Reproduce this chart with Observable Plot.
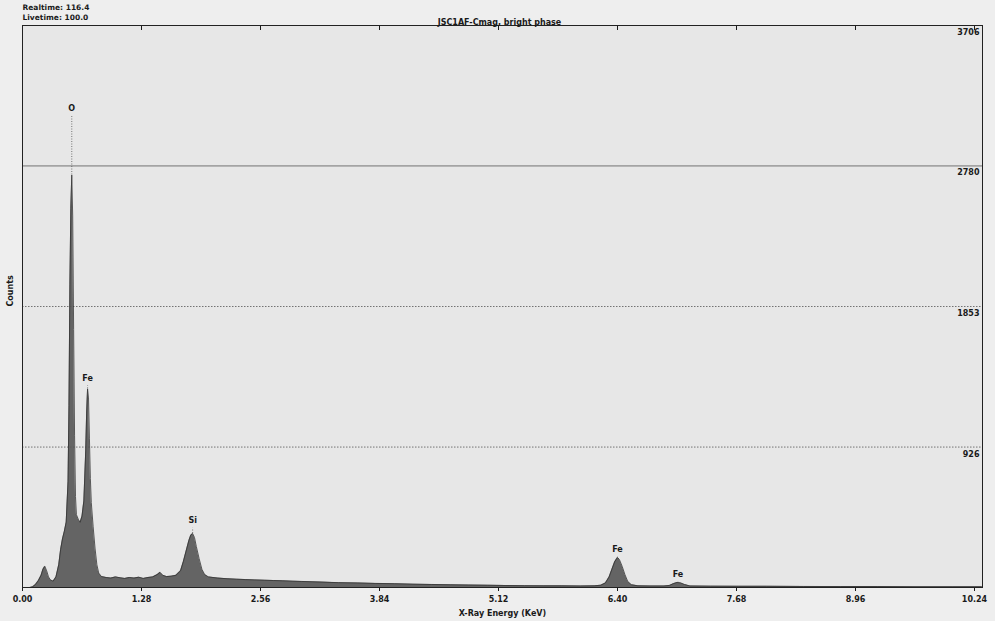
<!DOCTYPE html>
<html>
<head>
<meta charset="utf-8">
<script src="https://cdn.jsdelivr.net/npm/d3@7"></script>
<script src="https://cdn.jsdelivr.net/npm/@observablehq/plot@0.6"></script>
<style>
  html, body { margin: 0; padding: 0; background: #eeeeee; }
  #chart svg { display: block; }
</style>
</head>
<body>
<div id="chart"></div>
<script>
// ---- Data ----
const energy = [
  0.00, 0.08, 0.11, 0.14, 0.17, 0.20, 0.22, 0.24, 0.26, 0.28, 0.30, 0.33, 0.36, 0.39, 0.41, 0.43, 0.45, 0.47,
  0.49, 0.50, 0.51, 0.52, 0.53, 0.54, 0.55, 0.56, 0.57, 0.58, 0.60, 0.62, 0.64, 0.66, 0.68, 0.69, 0.70, 0.71,
  0.72, 0.73, 0.74, 0.76, 0.78, 0.80, 0.82, 0.85, 0.90, 0.95, 1.00, 1.05, 1.10, 1.15, 1.20, 1.25, 1.30, 1.35,
  1.40, 1.45, 1.48, 1.51, 1.55, 1.60, 1.65, 1.70, 1.73, 1.76, 1.79, 1.81, 1.83, 1.85, 1.87, 1.90, 1.93, 1.96,
  2.00, 2.10, 2.20, 2.30, 2.40, 2.50, 2.60, 2.70, 2.80, 2.90, 3.00, 3.20, 3.40, 3.60, 3.80, 4.00, 4.20, 4.40,
  4.60, 4.80, 5.00, 5.20, 5.40, 5.60, 5.80, 6.00, 6.15, 6.22, 6.27, 6.31, 6.34, 6.37, 6.40, 6.42, 6.45, 6.48,
  6.51, 6.55, 6.62, 6.75, 6.90, 6.96, 7.00, 7.04, 7.08, 7.12, 7.18, 7.40, 7.70, 8.00, 8.40, 8.80, 9.20, 9.60,
  10.00, 10.24, 10.32
];
const counts = [
  0, 0, 5, 20, 45, 80, 120, 140, 110, 70, 50, 42, 70, 150, 250, 320, 370, 430,
  700, 1200, 2000, 2500, 2720, 2450, 1700, 1000, 600, 480, 450, 430, 470, 570, 900, 1150, 1310, 1250,
  980, 720, 560, 400, 260, 150, 95, 72, 66, 62, 70, 64, 60, 66, 62, 68, 60, 66,
  70, 85, 100, 80, 72, 75, 80, 110, 170, 240, 310, 345, 356, 330, 270, 190, 120, 85,
  70, 62, 58, 55, 52, 50, 48, 46, 44, 42, 40, 36, 32, 30, 27, 25, 22, 20,
  18, 16, 15, 13, 12, 11, 11, 10, 11, 15, 30, 70, 120, 170, 198, 185, 140, 85,
  40, 18, 11, 10, 10, 14, 25, 33, 30, 20, 10, 9, 8, 8, 7, 6, 6, 5,
  5, 5, 5
];

const peakElements = ["O", "Fe", "Si", "Fe", "Fe"];
const peakEnergy   = [0.53, 0.70, 1.83, 6.40, 7.05];
const peakTop      = [2720, 1310, 356, 198, 33];
const peakLabelAt  = [3160, 1380, 440, 250, 85];

const xTicks = [0.00, 1.28, 2.56, 3.84, 5.12, 6.40, 7.68, 8.96, 10.24];
const ySolidGrid = [2780];
const yDottedGrid = [926, 1853];
const yLabels = [926, 1853, 2780, 3706];

const titleText = "JSC1AF-Cmag, bright phase";
const realtimeText = "Realtime: 116.4";
const livetimeText = "Livetime: 100.0";

// ---- Build tables ----
const spectrum = energy.map((e, i) => ({e, c: counts[i]}));
const peaks = peakElements.map((el, i) => ({el, e: peakEnergy[i], top: peakTop[i], lab: peakLabelAt[i]}));

const font = "DejaVu Sans, Verdana, sans-serif";

const chart = Plot.plot({
  width: 995,
  height: 621,
  marginLeft: 22,
  marginRight: 13,
  marginTop: 25,
  marginBottom: 34,
  style: {background: "#eeeeee", fontFamily: font, fontSize: "8px", fontWeight: "bold", color: "#1a1a1a"},
  x: {domain: [0, 10.326]},
  y: {domain: [0, 3706]},
  marks: [
    Plot.frame({fill: "#e7e7e7", stroke: null}),
    Plot.ruleY(ySolidGrid, {stroke: "#555", strokeWidth: 0.8}),
    Plot.ruleY(yDottedGrid, {stroke: "#555", strokeWidth: 0.8, strokeDasharray: "1.5,1.5"}),
    Plot.areaY(spectrum, {x: "e", y: "c", fill: "#555", fillOpacity: 0.9, curve: "linear"}),
    Plot.lineY(spectrum, {x: "e", y: "c", stroke: "#333", strokeWidth: 0.8}),
    Plot.ruleX(peaks, {x: "e", y1: "top", y2: d => d.lab - 50, stroke: "#555", strokeWidth: 0.8, strokeDasharray: "1,1.5"}),
    Plot.text(peaks, {x: "e", y: "lab", text: "el", fill: "#1a1a1a", fontSize: 8, fontWeight: "bold"}),
    Plot.text(yLabels, {y: d => d, text: d => String(d), frameAnchor: "right", textAnchor: "end", dx: -3, dy: 7, fill: "#1a1a1a", fontSize: 8, fontWeight: "bold"}),
    Plot.axisX({
      anchor: "bottom",
      ticks: xTicks,
      tickFormat: d3.format(".2f"),
      tickSize: 4,
      tickPadding: 5,
      fontSize: 8,
      label: "X-Ray Energy (KeV)",
      labelAnchor: "center",
      labelArrow: "none",
      labelOffset: 28
    }),
    Plot.axisX({anchor: "top", ticks: xTicks, tickSize: -4, tickFormat: () => "", label: null}),
    Plot.axisY({ticks: [], label: null}),
    Plot.frame({stroke: "#222", strokeWidth: 1}),
    Plot.text([titleText], {text: d => d, frameAnchor: "top", dy: -6, dx: -3, fontSize: 8, fontWeight: "bold", fill: "#1a1a1a"}),
    Plot.text([realtimeText], {text: d => d, frameAnchor: "top-left", textAnchor: "start", dy: -21, fontSize: 7.5, fontWeight: "bold", fill: "#1a1a1a"}),
    Plot.text([livetimeText], {text: d => d, frameAnchor: "top-left", textAnchor: "start", dy: -11, fontSize: 7.5, fontWeight: "bold", fill: "#1a1a1a"}),
    Plot.text(["Counts"], {text: d => d, frameAnchor: "left", rotate: -90, dx: -12, fontSize: 8, fontWeight: "bold", fill: "#1a1a1a"})
  ]
});

document.getElementById("chart").appendChild(chart);
</script>
</body>
</html>
